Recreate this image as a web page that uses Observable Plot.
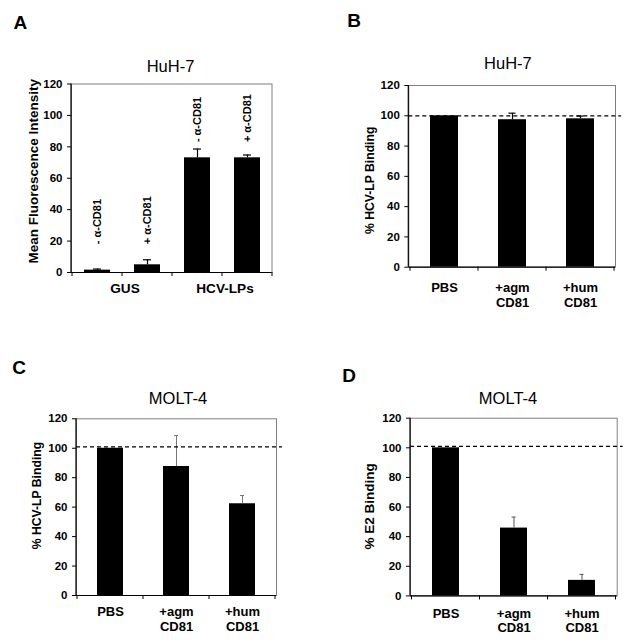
<!DOCTYPE html>
<html>
<head>
<meta charset="utf-8">
<script src="https://cdn.jsdelivr.net/npm/d3@7"></script>
<script src="https://cdn.jsdelivr.net/npm/@observablehq/plot@0.6"></script>
<style>
html, body { margin: 0; padding: 0; background: #fff; }
#fig { position: relative; width: 630px; height: 643px; overflow: hidden; background: #fff; }
#fig svg { position: absolute; }
</style>
</head>
<body>
<div id="fig"></div>
<script>
// ---------------- data ----------------
const yTicks = [0, 20, 40, 60, 80, 100, 120];
const referenceLevel = 100;

// Panel A – HuH-7, Mean Fluorescence Intensity
const aGroups = ["GUS", "HCV-LPs"];
const aTreatments = ["- α-CD81", "+ α-CD81"];
const aValues = [1.5, 4.9, 73, 73];
const aErrors = [0.7, 3.2, 5.6, 1.8];

// Panels B–D share categories
const bdCategories = ["PBS", "+agm\nCD81", "+hum\nCD81"];

// Panel B – HuH-7, % HCV-LP Binding
const bValues = [100, 97.4, 98];
const bErrors = [0, 4.3, 1.8];

// Panel C – MOLT-4, % HCV-LP Binding
const cValues = [100, 87.6, 62.3];
const cErrors = [0, 21.1, 5.6];

// Panel D – MOLT-4, % E2 Binding
const dValues = [100, 45.8, 10.5];
const dErrors = [0, 7.4, 4];

// ---------------- helpers ----------------
const FONT = "'Liberation Sans', Arial, Helvetica, sans-serif";

function bandEdges(x) {
  const dom = x.domain();
  const bw = typeof x.bandwidth === "function" ? x.bandwidth() : x.bandwidth;
  const step = typeof x.step === "function" ? x.step() : (dom.length > 1 ? x(dom[1]) - x(dom[0]) : bw);
  const edges = dom.map(d => x(d) - (step - bw) / 2);
  edges.push(edges[edges.length - 1] + step);
  return {dom, bw, step, edges};
}

// left axis line + category boundary ticks (Excel style)
function axisLines(index, scales, values, dims) {
  const {edges} = bandEdges(scales.x);
  const y0 = dims.height - dims.marginBottom;
  const g = d3.create("svg:g").attr("stroke", "#000").attr("fill", "none");
  g.append("line")
    .attr("x1", dims.marginLeft).attr("x2", dims.marginLeft)
    .attr("y1", dims.marginTop).attr("y2", y0)
    .attr("stroke-width", 1.2);
  g.selectAll("line.t").data(edges).join("line").attr("class", "t")
    .attr("x1", d => d).attr("x2", d => d)
    .attr("y1", y0).attr("y2", y0 + 4)
    .attr("stroke-width", 1);
  return g.node();
}

function panel(cfg) {
  const rows = cfg.keys.map((k, i) => ({key: k, value: cfg.values[i], err: cfg.errors[i], i}));
  const withErr = rows.filter(d => d.err > 0);
  const marks = [
    Plot.frame({stroke: "#808080", strokeWidth: 1}),
    Plot.barY(rows, {x: "key", y: "value", fill: "#000"}),
    Plot.ruleX(withErr, {x: "key", y1: "value", y2: d => d.value + d.err, stroke: cfg.errColor, strokeWidth: cfg.errWidth}),
    Plot.tickY(withErr, {x: "key", y: d => d.value + d.err, stroke: cfg.errColor, strokeWidth: cfg.errWidth, insetLeft: cfg.capInset, insetRight: cfg.capInset}),
    Plot.ruleY([0], {stroke: "#000", strokeWidth: 1.2}),
    axisLines,
    Plot.axisY({ticks: yTicks, tickSize: 4, tickPadding: 5, fontSize: 11.5, fontWeight: "bold", label: null}),
    Plot.text([cfg.yLabel], {text: d => d, frameAnchor: "left", rotate: -90, textAnchor: "middle", lineAnchor: "middle",
      dx: cfg.yLabelDx, dy: cfg.yLabelDy, fontSize: cfg.yLabelSize, fontWeight: "bold"}),
    Plot.text([cfg.title], {text: d => d, frameAnchor: "top", textAnchor: "middle", lineAnchor: "bottom",
      dx: cfg.titleDx, dy: cfg.titleDy, fontSize: 16.5}),
    Plot.text([cfg.letter], {text: d => d, frameAnchor: "top-left", textAnchor: "start", lineAnchor: "bottom",
      dx: cfg.letterDx, dy: cfg.letterDy, fontSize: 19, fontWeight: "bold"})
  ];
  if (cfg.reference) {
    marks.push(Plot.ruleY([cfg.reference], {stroke: "#000", strokeWidth: 1.3, strokeDasharray: "4,3", insetRight: -6}));
  }
  if (cfg.xAxis) {
    marks.push(Plot.axisX({tickSize: 0, tickPadding: cfg.xPad, fontSize: 13, fontWeight: "bold", lineHeight: 1.13, label: null}));
  }
  if (cfg.extra) marks.push(...cfg.extra);
  const svg = Plot.plot({
    width: cfg.width, height: cfg.height,
    marginLeft: cfg.ml, marginRight: cfg.mr, marginTop: cfg.mt, marginBottom: cfg.mb,
    style: {fontFamily: FONT, color: "#000", background: "transparent", overflow: "visible"},
    x: {domain: cfg.keys, paddingInner: cfg.pad, paddingOuter: cfg.pad / 2, axis: cfg.xAxis ? undefined : null},
    y: {domain: [0, 120], nice: false},
    marks
  });
  svg.style.left = cfg.left + "px";
  svg.style.top = cfg.top + "px";
  document.getElementById("fig").appendChild(svg);
}

// ---------------- Panel A ----------------
const aKeys = aGroups.flatMap(g => aTreatments.map(t => g + " " + t));
const aLabelLevel = aGroups.map((g, gi) => gi === 0 ? 18 : 83);

function aGroupLabels(index, scales, values, dims) {
  const x = scales.x;
  const {bw} = bandEdges(x);
  const y0 = dims.height - dims.marginBottom;
  const g = d3.create("svg:g").attr("font-size", 13.6).attr("font-weight", "bold").attr("text-anchor", "middle").attr("fill", "#000");
  aGroups.forEach((grp, gi) => {
    const ks = aKeys.filter(k => k.startsWith(grp + " "));
    const cx = (x(ks[0]) + x(ks[ks.length - 1]) + bw) / 2;
    g.append("text").attr("x", cx + 3).attr("y", y0 + 11).attr("dy", "0.71em").text(grp);
  });
  return g.node();
}

const aRowLabels = aKeys.map((k, i) => ({key: k, text: aTreatments[i % aTreatments.length], level: aLabelLevel[Math.floor(i / aTreatments.length)]}));

panel({
  left: 0, top: 0, width: 315, height: 320,
  ml: 71, mr: 43.5, mt: 83.5, mb: 48,
  keys: aKeys, values: aValues, errors: aErrors, pad: 0.49,
  errColor: "#000", errWidth: 1.2, capInset: 9,
  yLabel: "Mean Fluorescence Intensity", yLabelDx: -38, yLabelDy: -7, yLabelSize: 13.5,
  title: "HuH-7", titleDx: -1.2, titleDy: -11.8,
  letter: "A", letterDx: -58, letterDy: -55.2,
  xAxis: false,
  extra: [
    aGroupLabels,
    Plot.text(aRowLabels, {x: "key", y: "level", text: "text", rotate: -90, textAnchor: "start", lineAnchor: "middle", fontSize: 11, fontWeight: "bold"})
  ]
});

// ---------------- Panel B ----------------
panel({
  left: 315, top: 0, width: 315, height: 320,
  ml: 93.3, mr: 15, mt: 85, mb: 53.3,
  keys: bdCategories, values: bValues, errors: bErrors, pad: 0.588,
  errColor: "#000", errWidth: 1.2, capInset: 10.5,
  yLabel: "% HCV-LP Binding", yLabelDx: -38.3, yLabelDy: 4, yLabelSize: 12.2,
  title: "HuH-7", titleDx: -4.2, titleDy: -16.7,
  letter: "B", letterDx: -61.6, letterDy: -58.3,
  xAxis: true, xPad: 14.3,
  reference: referenceLevel
});

// ---------------- Panel C ----------------
panel({
  left: 0, top: 320, width: 315, height: 323,
  ml: 76, mr: 39, mt: 98.3, mb: 48,
  keys: bdCategories, values: cValues, errors: cErrors, pad: 0.6,
  errColor: "#777", errWidth: 1, capInset: 11,
  yLabel: "% HCV-LP Binding", yLabelDx: -39.3, yLabelDy: -11.6, yLabelSize: 12.2,
  title: "MOLT-4", titleDx: 1.5, titleDy: -15,
  letter: "C", letterDx: -64.3, letterDy: -45,
  xAxis: true, xPad: 10,
  reference: referenceLevel + 1
});

// ---------------- Panel D ----------------
panel({
  left: 315, top: 320, width: 315, height: 323,
  ml: 95, mr: 13.3, mt: 97.7, mb: 47.6,
  keys: bdCategories, values: dValues, errors: dErrors, pad: 0.6,
  errColor: "#555", errWidth: 1, capInset: 11.5,
  yLabel: "% E2 Binding", yLabelDx: -40.5, yLabelDy: -0.7, yLabelSize: 13.5,
  title: "MOLT-4", titleDx: -5.8, titleDy: -14.4,
  letter: "D", letterDx: -68.3, letterDy: -36,
  xAxis: true, xPad: 11.4,
  reference: referenceLevel + 1
});
</script>
</body>
</html>
